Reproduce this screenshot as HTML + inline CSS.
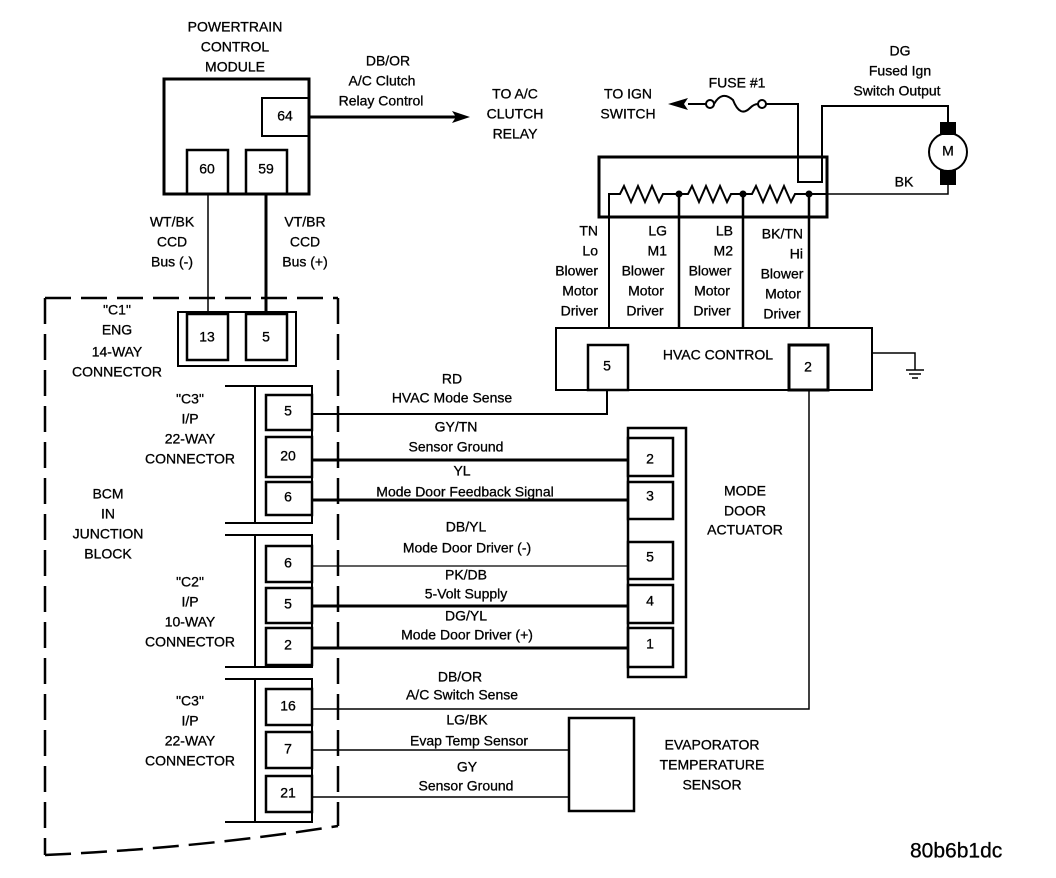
<!DOCTYPE html>
<html><head><meta charset="utf-8"><style>
html,body{margin:0;padding:0;background:#fff;}
svg{display:block;}
text{font-family:"Liberation Sans",Arial,sans-serif;font-size:14px;fill:#000;stroke:#000;stroke-width:0.3;dominant-baseline:middle;}
.m{text-anchor:middle}.e{text-anchor:end}
</style></head><body>
<svg width="1056" height="878" viewBox="0 0 1056 878" xmlns="http://www.w3.org/2000/svg">
<g fill="none" stroke="#000" stroke-width="2">
<rect x="164" y="79" width="145" height="115" stroke-width="3"/>
<rect x="262" y="98" width="47" height="38"/>
<rect x="187" y="150" width="41" height="44" stroke-width="2.5"/>
<rect x="246" y="150" width="41" height="44" stroke-width="2.5"/>
<line x1="309" y1="117" x2="458" y2="117" stroke-width="3"/>
<line x1="208" y1="194" x2="208" y2="314" stroke-width="1.5"/>
<line x1="266" y1="194" x2="266" y2="314" stroke-width="3"/>
<path d="M45 298 H338 M45 298 V855 M338 298 V826 M45 855 Q200 848 338 826" stroke-dasharray="26 10" stroke-width="2.5"/>
<rect x="178" y="312" width="118" height="54"/>
<rect x="187" y="314" width="41" height="46" stroke-width="2.5"/>
<rect x="246" y="314" width="41" height="46" stroke-width="2.5"/>
<path d="M225 386 H312 V523 H225 M255 386 V523" />
<path d="M225 535 H312 V667 H225 M255 535 V667" />
<path d="M225 679 H312 V822 H225 M255 679 V822" />
<rect x="266" y="395" width="46" height="35" stroke-width="2.5"/>
<rect x="266" y="437" width="46" height="40" stroke-width="2.5"/>
<rect x="266" y="482" width="46" height="33" stroke-width="2.5"/>
<rect x="266" y="546" width="46" height="36" stroke-width="2.5"/>
<rect x="266" y="588" width="46" height="35" stroke-width="2.5"/>
<rect x="266" y="628" width="46" height="37" stroke-width="2.5"/>
<rect x="266" y="689" width="46" height="36" stroke-width="2.5"/>
<rect x="266" y="732" width="46" height="36" stroke-width="2.5"/>
<rect x="266" y="776" width="46" height="36" stroke-width="2.5"/>
<path d="M312 414 H607 V390" stroke-width="2"/>
<line x1="312" y1="460" x2="628" y2="460" stroke-width="3"/>
<line x1="312" y1="500" x2="628" y2="500" stroke-width="3"/>
<line x1="312" y1="566" x2="628" y2="566" stroke-width="1.2"/>
<line x1="312" y1="606" x2="628" y2="606" stroke-width="3"/>
<line x1="312" y1="648" x2="628" y2="648" stroke-width="3"/>
<path d="M312 709 H809 V390" stroke-width="1.5"/>
<line x1="312" y1="750" x2="569" y2="750" stroke-width="1.5"/>
<line x1="312" y1="797" x2="569" y2="797" stroke-width="1.5"/>
<rect x="628" y="428" width="58" height="249" stroke-width="2.5"/>
<rect x="628" y="438" width="45" height="38" stroke-width="2.5"/>
<rect x="628" y="482" width="45" height="37" stroke-width="2.5"/>
<rect x="628" y="542" width="45" height="37" stroke-width="2.5"/>
<rect x="628" y="585" width="45" height="38" stroke-width="2.5"/>
<rect x="628" y="628" width="45" height="39" stroke-width="2.5"/>
<rect x="569" y="718" width="65" height="93" stroke-width="2.5"/>
<rect x="556" y="328" width="316" height="62" stroke-width="2"/>
<rect x="588" y="345" width="40" height="45" stroke-width="2.5"/>
<rect x="789" y="345" width="39" height="45" stroke-width="3"/>
<path d="M872 353 H915 V370 M906 370 H924 M909 374 H921 M912 378 H918" stroke-width="1.5"/>
<rect x="599" y="157" width="228" height="60" stroke-width="3"/>
<path d="M609 328 V194 H620 l4 -8 l7 16 l7 -16 l7 16 l7 -16 l7 16 l4 -8 H688 l4 -8 l7 16 l7 -16 l7 16 l7 -16 l7 16 l4 -8 H752 l4 -8 l7 16 l7 -16 l7 16 l7 -16 l7 16 l4 -8 H827" stroke-width="2"/>
<path d="M679 194 V328 M743 194 V328 M809 194 V328" stroke-width="2.5"/>
<path d="M827 194 H948 V185" stroke-width="1.5"/>
<path d="M688 104 H706 M714 104 Q722 90 733 100 Q740 118 750 108 Q754 104 758 104 M766 104 H798 V182 H822 V106 H948 V122" stroke-width="2"/>
<circle cx="710" cy="104" r="4"/><circle cx="762" cy="104" r="4"/>
<circle cx="948" cy="152" r="19" stroke-width="2"/>
</g>
<polygon points="470,117 452,111 456,117 452,123" fill="#000"/>
<polygon points="668,104 688,98 684,104 688,110" fill="#000"/>
<rect x="940" y="122" width="16" height="13" fill="#000"/>
<rect x="940" y="170" width="16" height="15" fill="#000"/>
<circle cx="679" cy="194" r="3.5"/><circle cx="743" cy="194" r="3.5"/><circle cx="809" cy="194" r="3.5"/>

<text class="m" x="235" y="28">POWERTRAIN</text>
<text class="m" x="235" y="48">CONTROL</text>
<text class="m" x="235" y="68">MODULE</text>
<text class="m" x="285" y="117">64</text>
<text class="m" x="207" y="170">60</text>
<text class="m" x="266" y="170">59</text>
<text class="m" x="388" y="62">DB/OR</text>
<text class="m" x="382" y="82">A/C Clutch</text>
<text class="m" x="381" y="102">Relay Control</text>
<text class="m" x="515" y="95">TO A/C</text>
<text class="m" x="515" y="115">CLUTCH</text>
<text class="m" x="515" y="135">RELAY</text>
<text class="m" x="172" y="223">WT/BK</text>
<text class="m" x="172" y="243">CCD</text>
<text class="m" x="172" y="263">Bus (-)</text>
<text class="m" x="305" y="223">VT/BR</text>
<text class="m" x="305" y="243">CCD</text>
<text class="m" x="305" y="263">Bus (+)</text>
<text class="m" x="117" y="311">"C1"</text>
<text class="m" x="117" y="331">ENG</text>
<text class="m" x="117" y="353">14-WAY</text>
<text class="m" x="117" y="373">CONNECTOR</text>
<text class="m" x="207" y="338">13</text>
<text class="m" x="266" y="338">5</text>
<text class="m" x="190" y="400">"C3"</text>
<text class="m" x="190" y="420">I/P</text>
<text class="m" x="190" y="440">22-WAY</text>
<text class="m" x="190" y="460">CONNECTOR</text>
<text class="m" x="108" y="495">BCM</text>
<text class="m" x="108" y="515">IN</text>
<text class="m" x="108" y="535">JUNCTION</text>
<text class="m" x="108" y="555">BLOCK</text>
<text class="m" x="190" y="583">"C2"</text>
<text class="m" x="190" y="603">I/P</text>
<text class="m" x="190" y="623">10-WAY</text>
<text class="m" x="190" y="643">CONNECTOR</text>
<text class="m" x="190" y="702">"C3"</text>
<text class="m" x="190" y="722">I/P</text>
<text class="m" x="190" y="742">22-WAY</text>
<text class="m" x="190" y="762">CONNECTOR</text>
<text class="m" x="288" y="412">5</text>
<text class="m" x="288" y="457">20</text>
<text class="m" x="288" y="498">6</text>
<text class="m" x="288" y="564">6</text>
<text class="m" x="288" y="605">5</text>
<text class="m" x="288" y="646">2</text>
<text class="m" x="288" y="707">16</text>
<text class="m" x="288" y="750">7</text>
<text class="m" x="288" y="794">21</text>
<text class="m" x="452" y="380">RD</text>
<text class="m" x="452" y="399">HVAC Mode Sense</text>
<text class="m" x="456" y="428">GY/TN</text>
<text class="m" x="456" y="448">Sensor Ground</text>
<text class="m" x="462" y="472">YL</text>
<text class="m" x="465" y="493">Mode Door Feedback Signal</text>
<text class="m" x="466" y="528">DB/YL</text>
<text class="m" x="467" y="549">Mode Door Driver (-)</text>
<text class="m" x="466" y="576">PK/DB</text>
<text class="m" x="466" y="595">5-Volt Supply</text>
<text class="m" x="466" y="617">DG/YL</text>
<text class="m" x="467" y="636">Mode Door Driver (+)</text>
<text class="m" x="460" y="678">DB/OR</text>
<text class="m" x="462" y="696">A/C Switch Sense</text>
<text class="m" x="467" y="721">LG/BK</text>
<text class="m" x="469" y="742">Evap Temp Sensor</text>
<text class="m" x="467" y="768">GY</text>
<text class="m" x="466" y="787">Sensor Ground</text>
<text class="m" x="650" y="460">2</text>
<text class="m" x="650" y="497">3</text>
<text class="m" x="650" y="558">5</text>
<text class="m" x="650" y="602">4</text>
<text class="m" x="650" y="645">1</text>
<text class="m" x="745" y="492">MODE</text>
<text class="m" x="745" y="512">DOOR</text>
<text class="m" x="745" y="531">ACTUATOR</text>
<text class="m" x="712" y="746">EVAPORATOR</text>
<text class="m" x="712" y="766">TEMPERATURE</text>
<text class="m" x="712" y="786">SENSOR</text>
<text class="m" x="718" y="356">HVAC CONTROL</text>
<text class="m" x="607" y="367">5</text>
<text class="m" x="808" y="368">2</text>
<text class="m" x="628" y="95">TO IGN</text>
<text class="m" x="628" y="115">SWITCH</text>
<text class="m" x="737" y="84">FUSE #1</text>
<text class="m" x="900" y="52">DG</text>
<text class="m" x="900" y="72">Fused Ign</text>
<text class="m" x="897" y="92">Switch Output</text>
<text class="m" x="904" y="183">BK</text>
<text class="m" x="948" y="152">M</text>
<text class="e" x="598" y="232">TN</text>
<text class="e" x="598" y="252">Lo</text>
<text class="e" x="598" y="272">Blower</text>
<text class="e" x="598" y="292">Motor</text>
<text class="e" x="598" y="312">Driver</text>
<text class="e" x="667" y="232">LG</text>
<text class="e" x="667" y="252">M1</text>
<text class="m" x="643" y="272">Blower</text>
<text class="m" x="646" y="292">Motor</text>
<text class="m" x="645" y="312">Driver</text>
<text class="e" x="733" y="232">LB</text>
<text class="e" x="733" y="252">M2</text>
<text class="m" x="710" y="272">Blower</text>
<text class="m" x="712" y="292">Motor</text>
<text class="m" x="712" y="312">Driver</text>
<text class="e" x="803" y="235">BK/TN</text>
<text class="e" x="803" y="255">Hi</text>
<text class="m" x="782" y="275">Blower</text>
<text class="m" x="783" y="295">Motor</text>
<text class="m" x="782" y="315">Driver</text>
<text x="910" y="852" style="font-size:21px">80b6b1dc</text>
</svg>
</body></html>
